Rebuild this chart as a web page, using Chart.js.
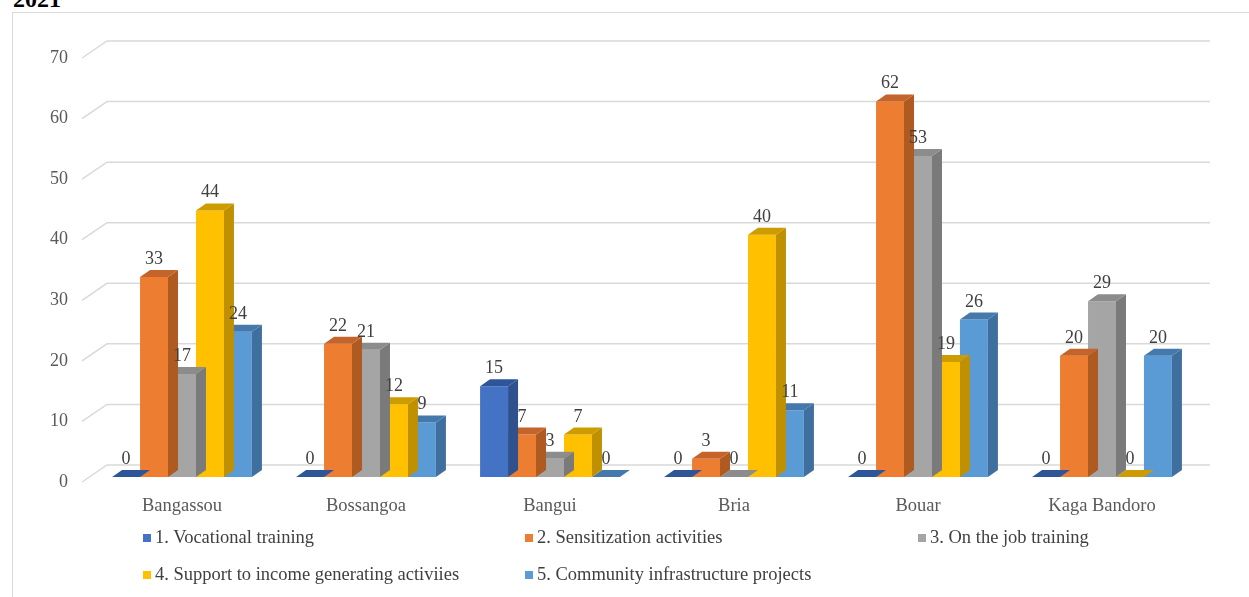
<!DOCTYPE html>
<html>
<head>
<meta charset="utf-8">
<script src="https://cdn.jsdelivr.net/npm/chart.js@4.4.1/dist/chart.umd.min.js"></script>
<style>
  html, body { margin: 0; padding: 0; background: #fff; width: 1249px; height: 597px; overflow: hidden; }
  body { position: relative; font-family: "Liberation Serif", "Times New Roman", serif; }
  #frame { position: absolute; left: 12px; top: 12px; width: 1250px; height: 600px; border: 1px solid #d9d9d9; box-sizing: border-box; }
  #title { position: absolute; left: 13px; top: -13px; font-size: 24px; line-height: 24px; font-weight: bold; color: #000; }
  #chart { position: absolute; left: 0; top: 0; }
  .lg { position: absolute; font-size: 18.5px; line-height: 20px; color: #404040; white-space: nowrap; }
  .lg i { display: inline-block; width: 8px; height: 8px; margin-right: 4px; vertical-align: 1px; }
</style>
</head>
<body>
<div id="frame"></div>
<div id="title">2021</div>
<canvas id="chart" width="1249" height="597"></canvas>
<div id="legend"></div>
<script>
// ---- data ----
const categories = ["Bangassou", "Bossangoa", "Bangui", "Bria", "Bouar", "Kaga Bandoro"];
const seriesNames = [
  "1. Vocational training",
  "2. Sensitization activities",
  "3. On the job training",
  "4. Support to income generating activiies",
  "5. Community infrastructure projects"
];
const vocationalTraining = [0, 0, 15, 0, 0, 0];
const sensitization = [33, 22, 7, 3, 62, 20];
const onTheJobTraining = [17, 21, 3, 0, 53, 29];
const incomeSupport = [44, 12, 7, 40, 19, 0];
const infrastructure = [24, 9, 0, 11, 26, 20];
const yMin = 0, yMax = 70, yStep = 10;

// ---- styles ----
const frontColors = ["#4472C4", "#ED7D31", "#A5A5A5", "#FFC000", "#5B9BD5"];
const sideColors  = ["#2F528F", "#AE5A21", "#7A7A7A", "#BF9000", "#3E6F9E"];
const topColors   = ["#2E5597", "#C4632A", "#8C8C8C", "#CC9C00", "#4679AB"];
const FONT = '"Liberation Serif", "Times New Roman", serif';
const DX = 10, DY = 7;

const seriesValues = [vocationalTraining, sensitization, onTheJobTraining, incomeSupport, infrastructure];

const threeD = {
  id: 'threeD',
  beforeDatasetsDraw(chart) {
    const { ctx, chartArea, scales: { y } } = chart;
    ctx.save();
    ctx.strokeStyle = '#d9d9d9';
    ctx.lineWidth = 1.5;
    y.ticks.forEach(t => {
      const py = y.getPixelForValue(t.value);
      ctx.beginPath();
      ctx.moveTo(chartArea.left - 8, py + 5);
      ctx.lineTo(chartArea.left + 17, py - 12);
      ctx.lineTo(chartArea.right + 16, py - 12);
      ctx.stroke();
    });
    ctx.restore();
  },
  afterDatasetDraw(chart, args) {
    const { ctx } = chart;
    const i = args.index;
    ctx.save();
    args.meta.data.forEach(bar => {
      const { x, y, base, width } = bar.getProps(['x', 'y', 'base', 'width'], true);
      const l = x - width / 2, r = x + width / 2;
      ctx.fillStyle = sideColors[i];
      ctx.beginPath();
      ctx.moveTo(r, y);
      ctx.lineTo(r + DX, y - DY);
      ctx.lineTo(r + DX, base - DY);
      ctx.lineTo(r, base);
      ctx.closePath();
      ctx.fill();
      ctx.fillStyle = topColors[i];
      ctx.beginPath();
      ctx.moveTo(l, y);
      ctx.lineTo(r, y);
      ctx.lineTo(r + DX, y - DY);
      ctx.lineTo(l + DX, y - DY);
      ctx.closePath();
      ctx.fill();
    });
    ctx.restore();
  },
  afterDatasetsDraw(chart) {
    const { ctx } = chart;
    ctx.save();
    ctx.font = '18px ' + FONT;
    ctx.fillStyle = '#404040';
    ctx.textAlign = 'center';
    ctx.textBaseline = 'alphabetic';
    chart.data.datasets.forEach((ds, i) => {
      chart.getDatasetMeta(i).data.forEach((bar, j) => {
        const { x, y } = bar.getProps(['x', 'y'], true);
        ctx.fillText(String(ds.data[j]), x, y - 13);
      });
    });
    ctx.restore();
  }
};

const chart = new Chart(document.getElementById('chart'), {
  type: 'bar',
  data: {
    labels: categories,
    datasets: seriesValues.map((vals, i) => ({
      label: seriesNames[i],
      data: vals,
      backgroundColor: frontColors[i],
      borderWidth: 0,
      categoryPercentage: 0.76,
      barPercentage: 1.0
    }))
  },
  options: {
    responsive: false,
    devicePixelRatio: 1,
    animation: false,
    layout: { padding: { top: 53, right: 55, left: 0, bottom: 0 } },
    plugins: { legend: { display: false }, tooltip: { enabled: false } },
    scales: {
      x: {
        grid: { display: false, drawTicks: false },
        border: { display: false },
        ticks: { font: { family: FONT, size: 18.5 }, color: '#595959', padding: 18 },
        afterFit(scale) { scale.height = 120; }
      },
      y: {
        min: yMin, max: yMax,
        grid: { display: false, drawTicks: false },
        border: { display: false },
        ticks: { stepSize: yStep, font: { family: FONT, size: 18 }, color: '#595959', padding: 22, labelOffset: 5 },
        afterFit(scale) { scale.width = 90; }
      }
    }
  },
  plugins: [threeD]
});

// ---- HTML legend built from the chart's datasets ----
const legendCols = [143, 525, 918];
const legendRows = [527, 564];
const legendEl = document.getElementById('legend');
chart.data.datasets.forEach((ds, i) => {
  const d = document.createElement('div');
  d.className = 'lg';
  d.style.left = legendCols[i % 3] + 'px';
  d.style.top = legendRows[Math.floor(i / 3)] + 'px';
  const sw = document.createElement('i');
  sw.style.background = ds.backgroundColor;
  d.appendChild(sw);
  d.appendChild(document.createTextNode(ds.label));
  legendEl.appendChild(d);
});
</script>
</body>
</html>
